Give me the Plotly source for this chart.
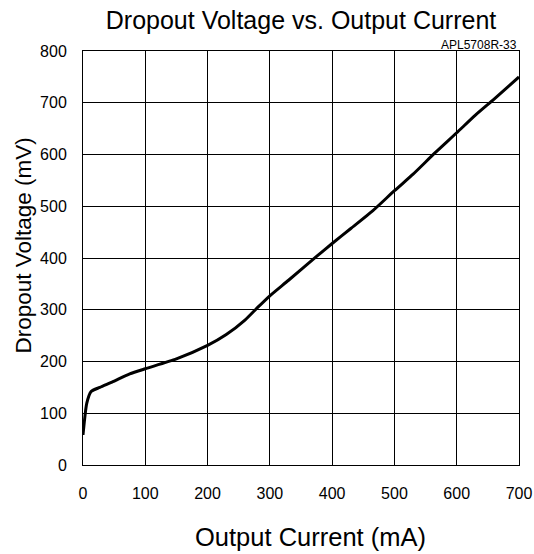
import plotly.graph_objects as go

current_ma = [0, 6, 13, 27, 48, 75, 100, 150, 200, 230, 260, 280, 300, 330, 375, 400, 430, 465, 500, 530, 565, 600, 630, 660, 700]
dropout_mv = [58, 119, 142, 150, 161, 176, 186, 205, 231, 252, 280, 304, 327, 357, 403, 428, 457, 491, 530, 562, 603, 642, 676, 707, 750]

x_ticks = [0, 100, 200, 300, 400, 500, 600, 700]
y_ticks = [0, 100, 200, 300, 400, 500, 600, 700, 800]

FONT = "Liberation Sans, Arial, sans-serif"

W, H = 534, 554
L, R, T, B = 83, 15, 51, 89
PW, PH = W - L - R, H - T - B

fig = go.Figure()
fig.add_trace(go.Scatter(x=current_ma, y=dropout_mv, mode="lines",
                         line=dict(color="black", width=3, shape="spline", smoothing=0.6),
                         showlegend=False, hoverinfo="skip"))

fig.update_layout(
    width=W, height=H,
    margin=dict(l=L, r=R, t=T, b=B, autoexpand=False),
    paper_bgcolor="white", plot_bgcolor="white",
    font=dict(family=FONT, color="black"),
    title=dict(text="Dropout Voltage vs. Output Current", x=(L + W - R) / 2 / W, xanchor="center",
               y=1 - 20 / H, yanchor="middle", font=dict(size=25, family=FONT, color="black")),
    annotations=[
        dict(text="APL5708R-33", xref="paper", yref="paper", x=1, y=1,
             xanchor="right", yanchor="bottom", showarrow=False,
             font=dict(size=12, family=FONT, color="black"), yshift=-3),
        dict(text="Output Current (mA)", xref="paper", yref="paper",
             x=(310 - L) / PW, y=-(537 - (H - B)) / PH, xanchor="center", yanchor="middle",
             showarrow=False, font=dict(size=25.5, family=FONT, color="black")),
        dict(text="Dropout Voltage (mV)", xref="paper", yref="paper", textangle=-90,
             x=(22.5 - L) / PW, y=((H - B) - 246) / PH, xanchor="center", yanchor="middle",
             showarrow=False, font=dict(size=22.5, family=FONT, color="black")),
    ],
)
fig.update_xaxes(range=[0, 700], tickvals=x_ticks, ticktext=[str(v) for v in x_ticks],
                 showgrid=True, gridcolor="black", gridwidth=1,
                 showline=True, linecolor="black", linewidth=1, mirror=True,
                 ticks="outside", ticklen=14, tickcolor="rgba(0,0,0,0)",
                 tickfont=dict(size=16), zeroline=False, automargin=False)
fig.update_yaxes(range=[0, 800], tickvals=y_ticks, ticktext=[str(v) for v in y_ticks],
                 showgrid=True, gridcolor="black", gridwidth=1,
                 showline=True, linecolor="black", linewidth=1, mirror=True,
                 ticks="outside", ticklen=12, tickcolor="rgba(0,0,0,0)",
                 tickfont=dict(size=16), zeroline=False, automargin=False)

fig.write_html("out.html", config={"displayModeBar": False},
               post_script="document.body.style.margin='0';")
